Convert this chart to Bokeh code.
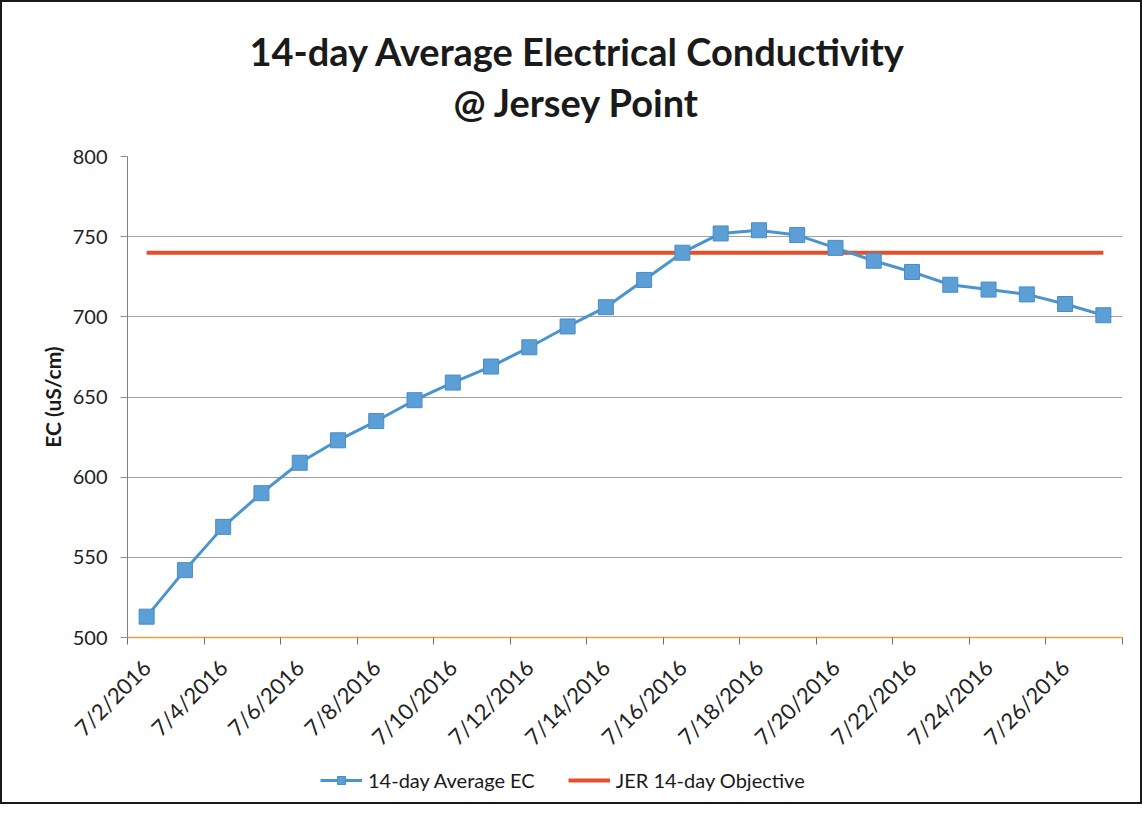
from bokeh.plotting import figure
from bokeh.layouts import column
from bokeh.models import Range1d, FixedTicker, Title, Legend, LegendItem
from bokeh.embed import file_html
from bokeh.resources import INLINE

# ---- data ----
dates = ["7/2/2016", "7/3/2016", "7/4/2016", "7/5/2016", "7/6/2016", "7/7/2016",
         "7/8/2016", "7/9/2016", "7/10/2016", "7/11/2016", "7/12/2016", "7/13/2016",
         "7/14/2016", "7/15/2016", "7/16/2016", "7/17/2016", "7/18/2016", "7/19/2016",
         "7/20/2016", "7/21/2016", "7/22/2016", "7/23/2016", "7/24/2016", "7/25/2016",
         "7/26/2016", "7/27/2016"]
ec_avg = [513, 542, 569, 590, 609, 623, 635, 648, 659, 669, 681, 694, 706, 723,
          740, 752, 754, 751, 743, 735, 728, 720, 717, 714, 708, 701]
objective = [740] * len(dates)
y_ticks = [500, 550, 600, 650, 700, 750, 800]
label_dates = dates[::2]
series_names = ["14-day Average EC", "JER 14-day Objective"]

days = [int(d.split("/")[1]) for d in dates]
label_days = [int(d.split("/")[1]) for d in label_dates]

FONT = "Lato"
BLUE_LINE, BLUE_FILL, BLUE_EDGE, RED = "#4a95cf", "#5c9fd6", "#4a8cc4", "#e5502c"

p = figure(frame_width=995, frame_height=481, output_backend="svg",
           toolbar_location=None,
           x_range=Range1d(days[0] - 0.5, days[-1] + 0.5),
           y_range=Range1d(y_ticks[0], y_ticks[-1]),
           min_border_left=125, min_border_right=18, min_border_top=154,
           min_border_bottom=120)
p.outline_line_color = None
p.background_fill_color = "white"
p.border_fill_color = "white"

# grid
p.xgrid.grid_line_color = None
p.ygrid.grid_line_color = "#a0a0a0"
p.ygrid.grid_line_width = 1.2

# y axis
ya = p.left[0]
ya.ticker = FixedTicker(ticks=y_ticks)
ya.axis_label = "EC (uS/cm)"
ya.axis_label_text_font = FONT
ya.axis_label_text_font_size = "21px"
ya.axis_label_text_font_style = "bold"
ya.axis_label_text_color = "#1a1a1a"
ya.axis_label_standoff = 5
ya.major_label_text_font = FONT
ya.major_label_text_font_size = "20px"
ya.major_label_text_color = "#222222"
ya.axis_line_color = "#808080"
ya.major_tick_line_color = "#909090"
ya.major_tick_out = 7
ya.major_tick_in = 0
ya.minor_tick_line_color = None
ya.major_label_standoff = 13

# x axis
xa = p.below[0]
minor = [d - 0.5 for d in days[::2]] + [days[-1] + 0.5]
xa.ticker = FixedTicker(ticks=label_days, minor_ticks=minor)
xa.major_label_overrides = {d: s for d, s in zip(label_days, label_dates)}
xa.major_label_orientation = 0.785
xa.major_label_text_font = FONT
xa.major_label_text_font_size = "22px"
xa.major_label_text_color = "#222222"
xa.axis_line_color = "#e8a040"
xa.axis_line_width = 1.5
xa.major_tick_line_color = None
xa.major_tick_out = 0
xa.minor_tick_line_color = "#707070"
xa.minor_tick_out = 7
xa.minor_tick_in = 0
xa.major_label_standoff = 19

# above: blank spacer, then the two title lines (closest to frame first)
p.add_layout(Title(text=" ", text_font_size="1px", standoff=29), "above")
p.add_layout(Title(text="@ Jersey Point", align="left", offset=326,
                   text_font=FONT, text_font_size="38px", text_font_style="bold",
                   text_color="#1a1a1a", standoff=0), "above")
p.add_layout(Title(text="14-day Average Electrical Conductivity", align="left",
                   offset=122, text_font=FONT, text_font_size="38px",
                   text_font_style="bold", text_color="#1a1a1a", standoff=6), "above")

# series
p.line(days, objective, line_color=RED, line_width=4)
p.line(days, ec_avg, line_color=BLUE_LINE, line_width=3)
p.scatter(days, ec_avg, marker="square", size=15, fill_color=BLUE_FILL,
          line_color=BLUE_EDGE, line_width=1)

# legend strip below the chart (same series styles; its ranges show only the key)
lf = figure(width=1138, height=40, output_backend="svg", toolbar_location=None,
            x_range=Range1d(0, 1), y_range=Range1d(0, 1),
            x_axis_location=None, y_axis_location=None,
            min_border_left=125, min_border_right=18, min_border_top=0,
            min_border_bottom=0)
lf.grid.visible = False
lf.outline_line_color = None
lf.background_fill_color = "white"
lf.border_fill_color = "white"
l_ln = lf.line(days, ec_avg, line_color=BLUE_LINE, line_width=3)
l_sq = lf.scatter(days, ec_avg, marker="square", size=15, fill_color=BLUE_FILL,
                  line_color=BLUE_EDGE, line_width=1)
l_obj = lf.line(days, objective, line_color=RED, line_width=4)
legend = Legend(items=[LegendItem(label=series_names[0], renderers=[l_ln, l_sq]),
                       LegendItem(label=series_names[1], renderers=[l_obj])],
                orientation="horizontal", location=(193, 10),
                label_text_font=FONT, label_text_font_size="20px",
                label_text_color="#1a1a1a", glyph_width=42, glyph_height=20,
                spacing=33, label_standoff=6, margin=0, padding=3,
                border_line_color=None, background_fill_alpha=0)
lf.add_layout(legend, "center")

layout = column(p, lf, spacing=0, styles={"border": "2px solid #1a1a1a"})

open("out.html", "w").write(file_html(layout, INLINE))
